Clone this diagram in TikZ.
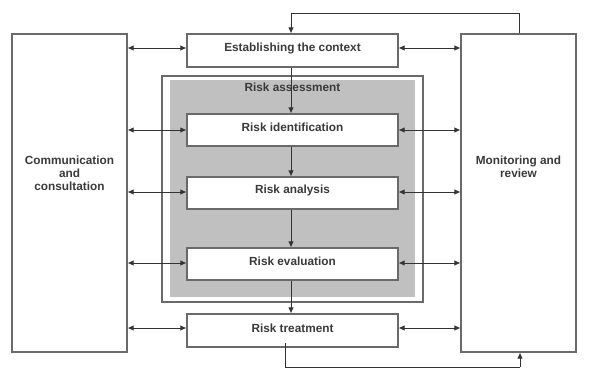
\documentclass[tikz,border=0pt]{standalone}
\usepackage{fontspec}
\setmainfont{Liberation Sans}
\usetikzlibrary{arrows.meta}
\definecolor{txt}{HTML}{3A3A3A}
\definecolor{edge}{HTML}{6A6A6A}
\definecolor{shade}{HTML}{C0C0C0}
\definecolor{ln}{HTML}{333333}
\begin{document}
\begin{tikzpicture}[x=1pt,y=-1pt,
  box/.style={draw=edge,line width=1.1pt,fill=white,rectangle,inner sep=0pt,anchor=center},
  lbl/.style={text=txt,font=\fontsize{11.8}{12.8}\selectfont\bfseries,align=center,inner sep=0pt},
  arr/.style={draw=ln,line width=0.9pt,-{Latex[length=6pt,width=5.5pt]}},
  darr/.style={draw=ln,line width=0.9pt,{Latex[length=6pt,width=5.5pt]}-{Latex[length=6pt,width=5.5pt]}},
  fb/.style={draw=ln,line width=0.9pt}]
\useasboundingbox (0,0) rectangle (605,369);
% frames
\node[box,minimum width=115pt,minimum height=318pt] (comm) at (69.5,193) {};
\node[box,minimum width=115pt,minimum height=318pt] (mon) at (518.5,193) {};
\node[draw=edge,line width=1.1pt,fill=white,inner sep=0pt,minimum width=261pt,minimum height=226pt] (frame) at (292.5,189) {};
\node[draw=none,fill=shade,inner sep=0pt,minimum width=245pt,minimum height=217pt] (gray) at (292.5,188.5) {};
% step boxes
\node[box,minimum width=211pt,minimum height=33pt] (est) at (292.5,50.5) {};
\node[box,minimum width=211pt,minimum height=32pt] (ident) at (292.5,130) {};
\node[box,minimum width=211pt,minimum height=32pt] (anal) at (292.5,193) {};
\node[box,minimum width=211pt,minimum height=32pt] (eval) at (292.5,264) {};
\node[box,minimum width=211pt,minimum height=33pt] (treat) at (292.5,330.5) {};
% labels
\node[lbl] (tcomm) at (69.5,173) {Communication\\and\\consultation};
\node[lbl] (tmon) at (518.5,167) {Monitoring and\\review};
\node[lbl] (test) at (292.5,48) {Establishing the context};
\node[lbl] (tra) at (292.5,87) {Risk assessment};
\node[lbl] (tident) at (292.5,127) {Risk identification};
\node[lbl] (tanal) at (292.5,190) {Risk analysis};
\node[lbl] (teval) at (292.5,261) {Risk evaluation};
\node[lbl] (ttreat) at (292.5,328) {Risk treatment};
% vertical flow
\draw[arr] ([xshift=-1.5pt]est.south) -- ([xshift=-1.5pt]ident.north);
\draw[arr] ([xshift=-1.5pt]ident.south) -- ([xshift=-1.5pt]anal.north);
\draw[arr] ([xshift=-1.5pt]anal.south) -- ([xshift=-1.5pt]eval.north);
\draw[arr] ([xshift=-1.5pt]eval.south) -- ([xshift=-1.5pt]treat.north);
% double arrows
\foreach \n/\dy in {est/2.5,ident/0,anal/1,eval/1,treat/2.5}{
  \draw[darr] ([yshift=\dy pt]comm.east |- \n.west) -- ([yshift=\dy pt]\n.west);
  \draw[darr] ([yshift=\dy pt]\n.east) -- ([yshift=\dy pt]mon.west |- \n.east);
}
% feedback loops
\coordinate (tr) at (519,13);
\coordinate (tl) at (291,13);
\draw[fb] (mon.north -| tr) -- (tr) -- (tl);
\draw[arr] (tl) -- (tl |- est.north);
\coordinate (bl) at (285,367);
\coordinate (br) at (520,367);
\draw[fb] ([yshift=5pt]treat.south -| bl) -- (bl) -- (br);
\draw[arr] (br) -- (br |- mon.south);
\end{tikzpicture}
\end{document}
